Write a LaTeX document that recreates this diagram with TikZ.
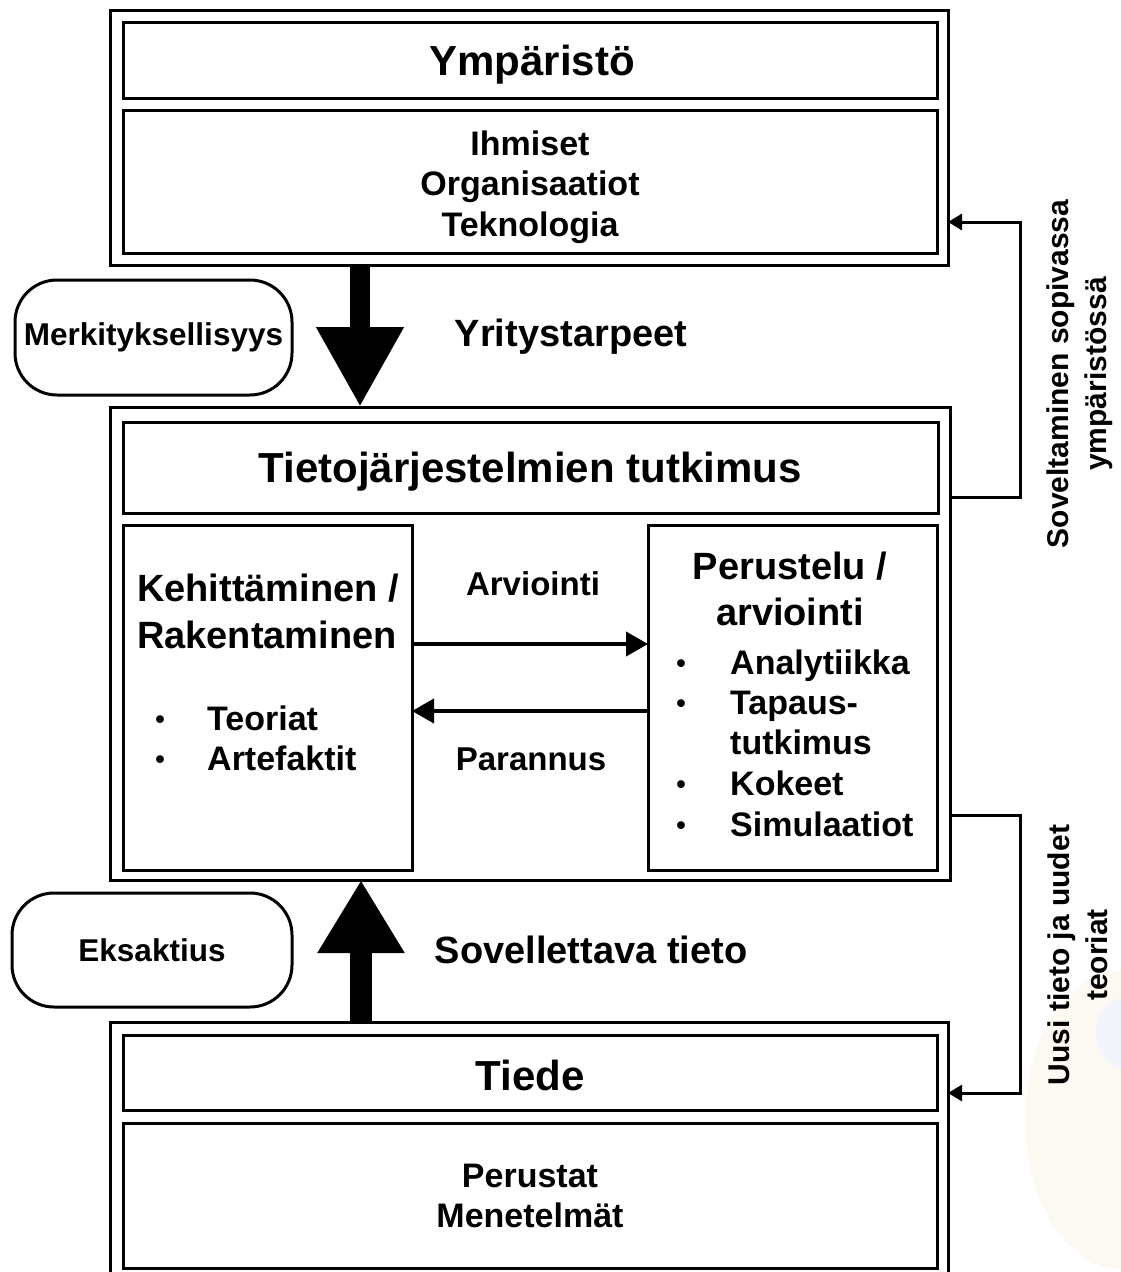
\documentclass[tikz,border=0pt]{standalone}
\usepackage{fontspec}
\setmainfont{Liberation Sans}
\usetikzlibrary{arrows.meta}
\definecolor{wmcream}{RGB}{252,249,243}
\definecolor{wmblue}{RGB}{242,245,252}
\begin{document}
\begin{tikzpicture}[x=1pt,y=-1pt,
  box/.style={draw, line width=3pt, inner sep=0pt, outer sep=0pt},
  hd/.style={font=\fontsize{42}{50}\selectfont\bfseries, anchor=base, inner sep=0pt},
  bd/.style={font=\fontsize{34}{40}\selectfont\bfseries, anchor=base, inner sep=0pt},
  sub/.style={font=\fontsize{38}{47}\selectfont\bfseries, anchor=base, inner sep=0pt},
  lbl/.style={font=\fontsize{33}{40}\selectfont\bfseries, anchor=base, inner sep=0pt},
  item/.style={font=\fontsize{34}{40}\selectfont\bfseries, anchor=base west, inner sep=0pt},
  bul/.style={font=\fontsize{27}{30}\selectfont\bfseries, anchor=base, inner sep=0pt},
  side/.style={font=\fontsize{30}{38}\selectfont\bfseries, rotate=90, align=center, inner sep=0pt},
  pill/.style={draw, line width=3pt, rounded corners=42pt, inner sep=0pt, outer sep=0pt, font=\fontsize{31.5}{38}\selectfont\bfseries},
  smallarrow/.style={line width=4pt, -{Triangle[length=22pt,width=24pt]}},
  sidearrow/.style={line width=3pt, -{Triangle[length=14pt,width=16pt]}}
]
\path[use as bounding box, clip] (0,0) rectangle (1121,1272);
\fill[white] (0,0) rectangle (1121,1272);
% faint watermark
\fill[wmcream] (1125,1120) ellipse [x radius=100pt, y radius=150pt];
\fill[wmblue] (1128,1033) ellipse [x radius=32pt, y radius=36pt];

% ---------- Ympäristö ----------
\node[box, minimum width=838pt, minimum height=255pt] (envO) at (529,137.5) {};
\node[box, minimum width=814pt, minimum height=76pt] (envT) at (530,60) {};
\node[box, minimum width=814pt, minimum height=143pt] (envB) at (530,181.5) {};
\node[hd] (tEnv) at (532,75) {Ympäristö};
\node[bd] (tIhm) at (530,155) {Ihmiset};
\node[bd] (tOrg) at (530,195) {Organisaatiot};
\node[bd] (tTek) at (530,236) {Teknologia};

% ---------- Tietojärjestelmien tutkimus ----------
\node[box, minimum width=840pt, minimum height=473pt] (isO) at (530,643.5) {};
\node[box, minimum width=815pt, minimum height=91pt] (isT) at (530.5,467.5) {};
\node[box, minimum width=289pt, minimum height=345pt] (dev) at (267.5,697.5) {};
\node[box, minimum width=289pt, minimum height=345pt] (jus) at (792.5,697.5) {};
\node[hd] (tIS) at (530,482) {Tietojärjestelmien tutkimus};

\node[sub] (tKeh) at (268,601) {Kehittäminen /};
\node[sub] (tRak) at (267,648) {Rakentaminen};
\node[bul] (b1) at (160,728) {•};
\node[item] (iTeo) at (207,730) {Teoriat};
\node[bul] (b2) at (160,768) {•};
\node[item] (iArt) at (207,770) {Artefaktit};

\node[sub] (tPer) at (790,579) {Perustelu /};
\node[sub] (tArv) at (790,625) {arviointi};
\node[bul] (b3) at (681,672) {•};
\node[item] (iAna) at (730,674) {Analytiikka};
\node[bul] (b4) at (681,712) {•};
\node[item] (iTap) at (730,714) {Tapaus-};
\node[item] (iTut) at (730,754) {tutkimus};
\node[bul] (b5) at (681,793) {•};
\node[item] (iKok) at (730,795) {Kokeet};
\node[bul] (b6) at (681,834) {•};
\node[item] (iSim) at (730,836) {Simulaatiot};

\node[lbl] (lArv) at (533,595) {Arviointi};
\node[lbl] (lPar) at (531,770) {Parannus};

\coordinate (yA) at (0,644);
\coordinate (yP) at (0,711);
\draw[smallarrow] (dev.east |- yA) -- (jus.west |- yA);
\draw[smallarrow] (jus.west |- yP) -- (dev.east |- yP);

% ---------- Tiede ----------
\node[box, minimum width=838pt, minimum height=280pt] (sciO) at (529,1162) {};
\node[box, minimum width=814pt, minimum height=75pt] (sciT) at (530,1072.5) {};
\node[box, minimum width=814pt, minimum height=145pt] (sciB) at (530,1195.5) {};
\node[hd] (tTiede) at (530,1090) {Tiede};
\node[bd] (tPerus) at (530,1187) {Perustat};
\node[bd] (tMen) at (530,1227) {Menetelmät};

% ---------- big arrows ----------
\coordinate (dnx) at (360,0);
\coordinate (upx) at (361,0);
\draw[line width=20pt, -{Triangle[length=80pt,width=82pt]}] (dnx |- envO.south) -- (dnx |- isO.north);
\draw[line width=22pt, -{Triangle[length=73pt,width=82pt]}] (upx |- sciO.north) -- (upx |- isO.south);

\node[pill, minimum width=277pt, minimum height=115pt] (rel) at (153.5,337.5) {Merkityksellisyys};
\node[pill, minimum width=280pt, minimum height=114pt] (rig) at (152,950) {Eksaktius};
\node[sub] (lYri) at (571,346) {Yritystarpeet};
\node[sub] (lSov) at (591,963) {Sovellettava tieto};

% ---------- side connectors ----------
\coordinate (yS1) at (0,497);
\coordinate (yS2) at (0,222);
\coordinate (yU1) at (0,815);
\coordinate (yU2) at (0,1093);
\draw[sidearrow] (isO.east |- yS1) -- ++(70,0) |- (envO.east |- yS2);
\draw[sidearrow] (isO.east |- yU1) -- ++(70,0) |- (sciO.east |- yU2);

\node[side] (sApp) at (1080,374) {Soveltaminen sopivassa\\ympäristössä};
\node[side] (sNew) at (1078,955) {Uusi tieto ja uudet\\teoriat};
\end{tikzpicture}
\end{document}
